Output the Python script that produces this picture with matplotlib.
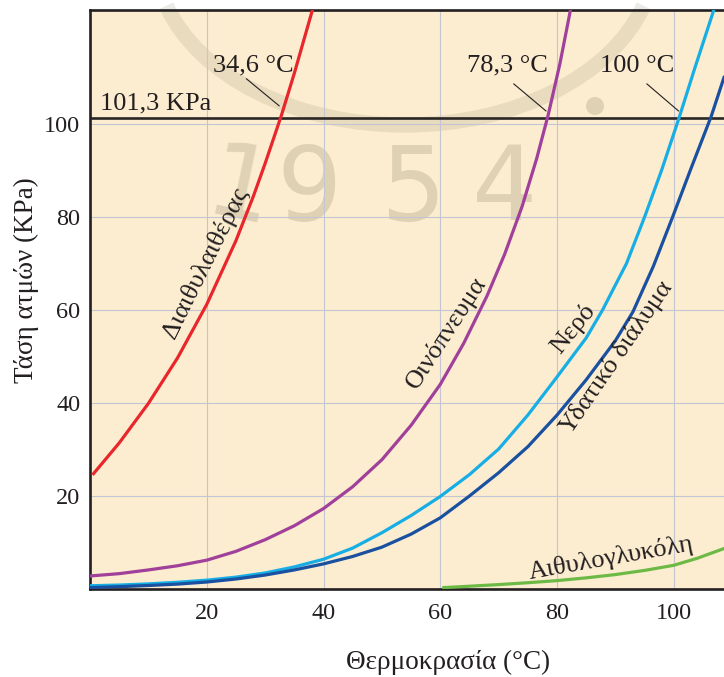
import matplotlib
matplotlib.use("Agg")
import matplotlib.pyplot as plt
from matplotlib.transforms import Affine2D
from matplotlib.patches import Arc, Circle

# ---------------- data ----------------
ether_t = [0.6, 5, 10, 15, 20, 25, 28, 30, 32.8, 35, 38.1]
ether_p = [24.8, 31.4, 39.9, 49.7, 61.2, 74.9, 84.5, 91.5, 101.9, 110.9, 124.5]

ethanol_t = [0, 5, 10, 15, 20, 25, 30, 35, 40, 45, 50, 55, 60, 64, 68, 71, 74, 76.5, 78.5, 80.5, 82.3]
ethanol_p = [2.8, 3.3, 4.1, 5.0, 6.2, 8.1, 10.6, 13.6, 17.3, 22.0, 27.8, 35.2, 44.0, 52.8, 63.0, 71.9, 82.2, 92.5, 102.0, 113.0, 124.5]

water_t = [0, 5, 10, 15, 20, 25, 30, 35, 40, 45, 50, 55, 60, 65, 70, 75, 80, 85, 87.8, 91.9, 95.0, 97.9, 100.9, 103.6, 106.8]
water_p = [0.7, 0.85, 1.1, 1.45, 1.9, 2.55, 3.45, 4.75, 6.4, 8.8, 12.1, 15.8, 19.9, 24.6, 30.1, 37.4, 45.6, 54.0, 60, 70, 80, 90, 101.3, 112, 124.3]

solution_t = [0, 5, 10, 15, 20, 25, 30, 35, 40, 45, 50, 55, 60, 65, 70, 75, 80, 85, 90, 93, 96.5, 99.8, 103, 106.4, 108.6]
solution_p = [0.3, 0.5, 0.75, 1.05, 1.5, 2.15, 3.0, 4.1, 5.4, 7.0, 9.0, 11.8, 15.3, 20.0, 25.0, 30.6, 37.4, 45.0, 53.4, 59.6, 69.4, 80.0, 90.6, 101.6, 110.0]

glycol_t = [60.6, 65, 70, 75, 80, 85, 90, 95, 100, 104, 108.6]
glycol_p = [0.3, 0.6, 0.95, 1.35, 1.8, 2.4, 3.1, 4.0, 5.1, 6.6, 8.7]

atm_pressure = 101.3
x_ticks = [20, 40, 60, 80, 100]
y_ticks = [20, 40, 60, 80, 100]

x_label = "Θερμοκρασία (°C)"
y_label = "Τάση ατμών (KPa)"
atm_label = "101,3 KPa"
bp_labels = ["34,6 °C", "78,3 °C", "100 °C"]
curve_names = ["Διαιθυλαιθέρας", "Οινόπνευμα", "Νερό", "Υδατικό διάλυμα", "Αιθυλογλυκόλη"]

# ---------------- style ----------------
FONT = ["Liberation Serif", "DejaVu Serif"]
plt.rcParams["font.family"] = FONT
TXT = "#231f20"
BG = "#fcedd0"
GRID = "#c3c6d2"
C_RED = "#e8262b"
C_PUR = "#a0409b"
C_LBL = "#17aee6"
C_DBL = "#1a50a0"
C_GRN = "#6cba45"

W, H = 724, 677
fig = plt.figure(figsize=(W / 100, H / 100), dpi=100)
fig.patch.set_facecolor("white")

ax = fig.add_axes([90 / W, (H - 589) / H, (W - 90) / W, (589 - 10) / H])
ax.set_facecolor(BG)
ax.set_xlim(0, 108.6)
ax.set_ylim(0, 124.5)

# watermark (pixel coords, y down)
pix = Affine2D().scale(1 / W, -1 / H).translate(0, 1) + fig.transFigure
wm = dict(color="#6e6446")
ax.add_patch(Arc((405, -45), 500, 340, theta1=12, theta2=168, lw=11, transform=pix,
                 clip_on=False, zorder=0.5, alpha=0.13, **wm))
ax.add_patch(Circle((595, 106), 9, transform=pix, clip_on=False, zorder=0.5, lw=0, alpha=0.2, **wm))
for d, xx, rot in [("1", 240, -12), ("9", 309, 0), ("5", 413, 0), ("4", 505, 0)]:
    ax.text(xx, 192, d, transform=pix, fontsize=74, family="DejaVu Sans",
            ha="center", va="center", rotation=rot, clip_on=False, zorder=0.5, alpha=0.2, **wm)

# grid
ax.set_xticks(x_ticks)
ax.set_yticks(y_ticks)
ax.grid(True, color=GRID, lw=0.8, zorder=0.8)
ax.set_axisbelow(True)

lw = 2.3
for tt, pp, cc in [(ether_t, ether_p, C_RED), (ethanol_t, ethanol_p, C_PUR),
                   (water_t, water_p, C_LBL), (solution_t, solution_p, C_DBL),
                   (glycol_t, glycol_p, C_GRN)]:
    ax.plot(tt, pp, color=cc, lw=lw, zorder=3, solid_joinstyle="round")

ax.axhline(atm_pressure, color="#2a2626", lw=1.9, zorder=2.5)

# spines / ticks
for s in ["left", "bottom", "top"]:
    ax.spines[s].set_color(TXT)
    ax.spines[s].set_linewidth(1.9)
ax.spines["right"].set_visible(False)
ax.tick_params(length=0, labelsize=17.5, labelcolor=TXT)
ax.tick_params(axis="x", pad=10)
ax.tick_params(axis="y", pad=7)

fig.text(448 / W, 1 - 662 / H, x_label, ha="center", va="center", fontsize=19.5, color=TXT)
fig.text(26 / W, 1 - 280 / H, y_label, ha="center", va="center", rotation=90, fontsize=19.5, color=TXT)

# annotations
fs = 19
ax.text(1.7, 104.3, atm_label, ha="left", va="center", fontsize=fs, color=TXT, zorder=4)
bp_pos = [(27.9, 112.5), (71.5, 112.5), (93.8, 112.5)]
lead = [((26.8, 109.7), (32.4, 103.9)), ((72.6, 108.6), (78.1, 102.8)), ((95.4, 108.6), (100.8, 102.8))]
for lab, (tx, ty), ((x1, y1), (x2, y2)) in zip(bp_labels, bp_pos, lead):
    ax.text(tx, ty, lab, ha="center", va="center", fontsize=fs, color=TXT, zorder=4)
    ax.plot([x1, x2], [y1, y2], color=TXT, lw=0.8, zorder=4)

name_pos = [(19.7, 70.1, 63.6), (61.1, 55.0, 57), (82.7, 55.9, 51), (90.2, 49.8, 55.4), (89.3, 6.6, 10)]
for name, (nx, ny, rot) in zip(curve_names, name_pos):
    ax.text(nx, ny, name, ha="center", va="center", rotation=rot, rotation_mode="anchor",
            fontsize=fs, color=TXT, zorder=4)

fig.savefig("out.png", dpi=100, facecolor="white")
